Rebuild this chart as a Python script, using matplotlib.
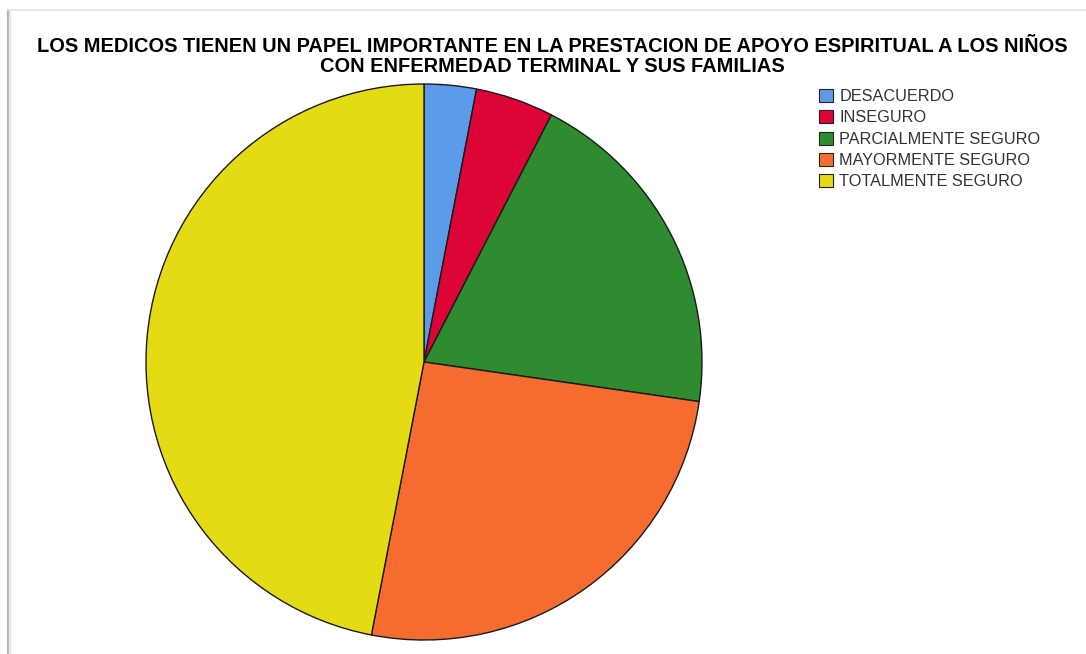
import matplotlib
matplotlib.use("Agg")
import matplotlib.pyplot as plt
from matplotlib.patches import Patch
from matplotlib.lines import Line2D

# respuestas (frecuencias)
categorias = ["DESACUERDO", "INSEGURO", "PARCIALMENTE SEGURO",
              "MAYORMENTE SEGURO", "TOTALMENTE SEGURO"]
frecuencias = [2, 3, 13, 17, 31]
colores = ["#5b9be8", "#dc0536", "#2e8b30", "#f56b30", "#e5db14"]

titulo_1 = "LOS MEDICOS TIENEN UN PAPEL IMPORTANTE EN LA PRESTACION DE APOYO ESPIRITUAL A LOS NIÑOS"
titulo_2 = "CON ENFERMEDAD TERMINAL Y SUS FAMILIAS"

W, H = 1086, 654
fig = plt.figure(figsize=(W / 100, H / 100), dpi=100)
fig.patch.set_facecolor("white")

# marco del panel
fig.add_artist(Line2D([8 / W, 8 / W], [0, 1 - 10 / H], color="#b8b8b8", lw=1.6))
fig.add_artist(Line2D([10 / W, 10 / W], [0, 1 - 11 / H], color="#e6e6e6", lw=1.5))
fig.add_artist(Line2D([8 / W, 1], [1 - 10 / H, 1 - 10 / H], color="#e4e4e4", lw=1.2))

# pastel
cx, cy, r = 424, 362, 278
ax = fig.add_axes([(cx - r) / W, (H - cy - r) / H, 2 * r / W, 2 * r / H])
ax.pie(frecuencias, colors=colores, startangle=90, counterclock=False,
       wedgeprops=dict(edgecolor="#1a1a1a", linewidth=1.0))
ax.set_xlim(-1, 1)
ax.set_ylim(-1, 1)
ax.set_aspect("equal")
ax.axis("off")

tstyle = dict(ha="center", va="center", fontsize=14.4, fontweight="bold",
              family="Liberation Sans", color="black")
fig.text(552 / W, 1 - 47 / H, titulo_1, **tstyle)
fig.text(552 / W, 1 - 67 / H, titulo_2, **tstyle)

handles = [Patch(facecolor=c, edgecolor="#222222", linewidth=0.8) for c in colores]
fig.legend(handles, categorias, loc="upper left",
           bbox_to_anchor=(819 / W, 1 - 89 / H), frameon=False,
           prop=dict(family="Liberation Sans", size=11.7),
           labelcolor="#333333", handlelength=0.85, handleheight=0.85,
           handletextpad=0.4, labelspacing=0.38, borderpad=0, borderaxespad=0)

fig.savefig("out.png", dpi=100, facecolor="white")
